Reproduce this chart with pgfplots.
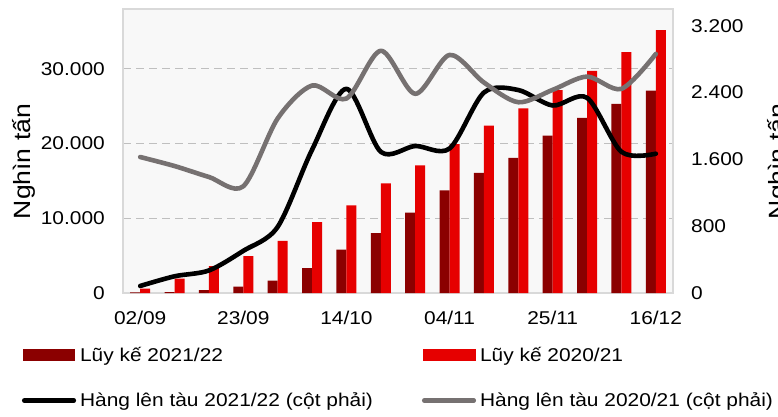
\documentclass[border=0pt]{standalone}
\usepackage{fontspec}
\setmainfont{Liberation Sans}[FakeStretch=1.13]
\usepackage{pgfplots}
\usepackage{pgfplotstable}
\pgfplotsset{compat=1.18}
\definecolor{darkbar}{RGB}{139,0,0}
\definecolor{redbar}{RGB}{230,0,0}
\definecolor{grayline}{RGB}{118,113,113}
\definecolor{framec}{RGB}{217,217,217}
\definecolor{gridc}{RGB}{191,191,191}
\definecolor{bgc}{RGB}{248,248,248}

\pgfplotstableread{
x dark red
0 80 570
1 120 1910
2 400 3600
3 840 4930
4 1640 6980
5 3330 9470
6 5820 11730
7 8000 14670
8 10760 17070
9 13730 19910
10 16090 22400
11 18090 24710
12 21070 27160
13 23420 29730
14 25290 32220
15 27070 35160
}\bars

\pgfplotstableread{
x a b
0 84 1628
1 200 1520
2 270 1389
3 505 1278
4 792 2090
5 1715 2484
6 2444 2328
7 1690 2900
8 1760 2385
9 1730 2850
10 2400 2520
11 2430 2284
12 2245 2432
13 2337 2591
14 1690 2444
15 1668 2862
}\lines

\begin{document}
\begin{tikzpicture}
\begin{axis}[
  at={(123pt,123pt)}, anchor=south west,
  scale only axis, width=550pt, height=284pt,
  xmin=-0.5, xmax=15.5, ymin=0, ymax=38000,
  axis background/.style={fill=bgc},
  axis line style={draw=framec, line width=1.3pt},
  xtick={0,3,6,9,12,15},
  xticklabels={02/09,23/09,14/10,04/11,25/11,16/12},
  ytick={0,10000,20000,30000},
  major tick length=0pt,
  ymajorgrids,
  major grid style={draw=gridc, line width=1.2pt, dash pattern=on 8pt off 5pt},
  /pgf/number format/assume math mode=true,
  /pgf/number format/1000 sep={.},
  scaled y ticks=false,
  tick label style={font=\fontsize{18.5}{22}\selectfont, inner sep=0pt, text=black},
  yticklabel style={xshift=-18pt},
  xticklabel style={yshift=-18pt},
  ylabel={Nghìn tấn},
  ylabel style={at={(axis description cs:-0.168,0.463)}, anchor=base, font=\fontsize{23.5}{28}\selectfont},
]
\addplot[ybar, bar width=10pt, bar shift=-5pt, fill=darkbar, draw=none] table[x=x,y=dark]{\bars};
\addplot[ybar, bar width=10pt, bar shift=5pt, fill=redbar, draw=none] table[x=x,y=red]{\bars};
\end{axis}
\begin{axis}[
  at={(123pt,123pt)}, anchor=south west,
  scale only axis, width=550pt, height=284pt,
  xmin=-0.5, xmax=15.5, ymin=0, ymax=3400,
  axis x line=none, axis y line*=right,
  y axis line style={draw=none},
  ytick={0,800,1600,2400,3200},
  major tick length=0pt,
  /pgf/number format/assume math mode=true,
  /pgf/number format/1000 sep={.},
  scaled y ticks=false,
  tick label style={font=\fontsize{18.5}{22}\selectfont, inner sep=0pt, text=black},
  yticklabel style={xshift=18pt},
  ylabel={Nghìn tấn},
  ylabel style={at={(axis description cs:1.205,0.463)}, anchor=base, font=\fontsize{23.5}{28}\selectfont},
  legend columns=2,
  legend cell align=left,
  legend style={at={(axis description cs:-0.184,-0.183)}, anchor=north west,
    draw=none, fill=none, inner sep=0pt, row sep=26pt,
    font=\fontsize{18.5}{22}\selectfont,
    /tikz/every even column/.append style={column sep=45pt},
    nodes={inner xsep=4pt, inner ysep=2pt}},
]
\addlegendimage{legend image code/.code={\fill[darkbar] (0pt,-5.6pt) rectangle (51.6pt,5.6pt);}}
\addlegendentry{Lũy kế 2021/22}
\addlegendimage{legend image code/.code={\fill[redbar] (0pt,-5.6pt) rectangle (52.3pt,5.6pt);}}
\addlegendentry{Lũy kế 2020/21}
\addplot[black, line width=4.6pt, smooth, tension=0.5, line cap=round, line join=round,
  legend image code/.code={\draw[black, line width=4.6pt, line cap=round] (1.5pt,0pt) -- (51pt,0pt);}]
  table[x=x,y=a]{\lines};
\addlegendentry{Hàng lên tàu 2021/22 (cột phải)}
\addplot[grayline, line width=4.6pt, smooth, tension=0.5, line cap=round, line join=round,
  legend image code/.code={\draw[grayline, line width=4.6pt, line cap=round] (1.5pt,0pt) -- (51pt,0pt);}]
  table[x=x,y=b]{\lines};
\addlegendentry{Hàng lên tàu 2020/21 (cột phải)}
\end{axis}
\pgfresetboundingbox
\useasboundingbox (0pt,0pt) rectangle (778pt,416pt);
\end{tikzpicture}
\end{document}
